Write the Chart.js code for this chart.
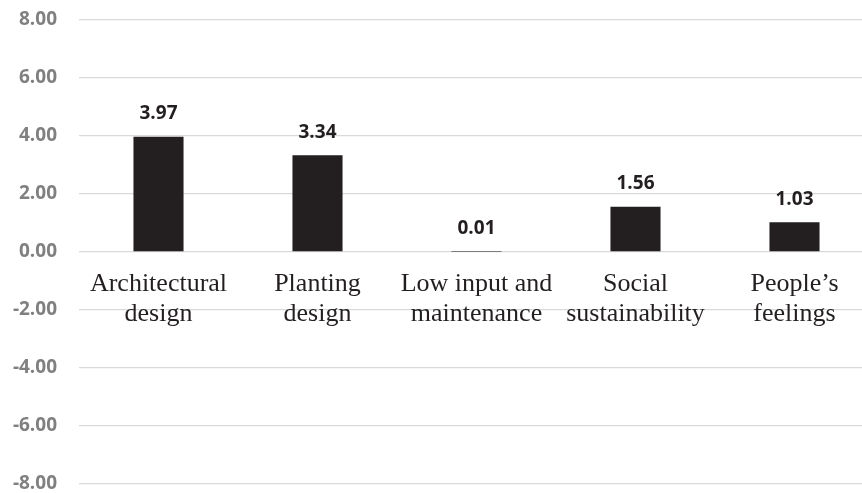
<!DOCTYPE html>
<html lang="en">
<head>
<meta charset="UTF-8">
<title>Scores by category</title>
<script src="https://cdn.jsdelivr.net/npm/chart.js"></script>
<style>
  html, body { margin: 0; padding: 0; background: #fff; overflow: hidden; }
  .wrap { width: 874px; height: 493px; }
</style>
</head>
<body>
<div class="wrap"><canvas id="grafico"></canvas></div>
<script>
// data
const categorias = [
  ['Architectural', 'design'],
  ['Planting', 'design'],
  ['Low input and', 'maintenance'],
  ['Social', 'sustainability'],
  ['People\u2019s', 'feelings']
];
const valores = [3.97, 3.34, 0.01, 1.56, 1.03];
const yMin = -8, yMax = 8, yPasso = 2;

// value labels above each bar
const rotulos = {
  id: 'rotulos',
  afterDatasetsDraw(chart) {
    const ctx = chart.ctx;
    const meta = chart.getDatasetMeta(0);
    ctx.save();
    ctx.font = 'bold 19px "Open Sans"';
    ctx.fillStyle = '#231f20';
    ctx.textAlign = 'center';
    ctx.textBaseline = 'middle';
    meta.data.forEach((bar, i) => {
      ctx.fillText(valores[i].toFixed(2), bar.x, bar.y - 23);
    });
    ctx.restore();
  }
};

new Chart(document.getElementById('grafico'), {
  type: 'bar',
  data: {
    labels: categorias,
    datasets: [{
      data: valores,
      backgroundColor: '#231f20',
      borderWidth: 0,
      categoryPercentage: 1,
      barPercentage: 0.315
    }]
  },
  options: {
    responsive: true,
    maintainAspectRatio: false,
    animation: false,
    layout: { padding: { top: 20, right: 0, bottom: 9, left: 0 } },
    plugins: { legend: { display: false }, tooltip: { enabled: false } },
    scales: {
      x: {
        position: { y: 0 },
        afterFit: s => { s.height = 0; },
        grid: { display: false },
        border: { display: false },
        ticks: {
          color: '#231f20',
          padding: 10,
          maxRotation: 0,
          autoSkip: false,
          font: { family: '"Liberation Serif", "Times New Roman", serif', size: 26, lineHeight: 1.12 }
        }
      },
      y: {
        min: yMin,
        max: yMax,
        afterFit: s => { s.width = 79; },
        grid: { color: '#d9d9d9', lineWidth: 1.3, drawTicks: true, tickLength: 22, tickColor: 'rgba(0,0,0,0)' },
        border: { display: false },
        ticks: {
          stepSize: yPasso,
          padding: 0,
          color: '#808080',
          font: { family: '"Open Sans"', weight: 'bold', size: 19, lineHeight: 0.9 },
          callback: v => v.toFixed(2)
        }
      }
    }
  },
  plugins: [rotulos]
});
</script>
</body>
</html>
